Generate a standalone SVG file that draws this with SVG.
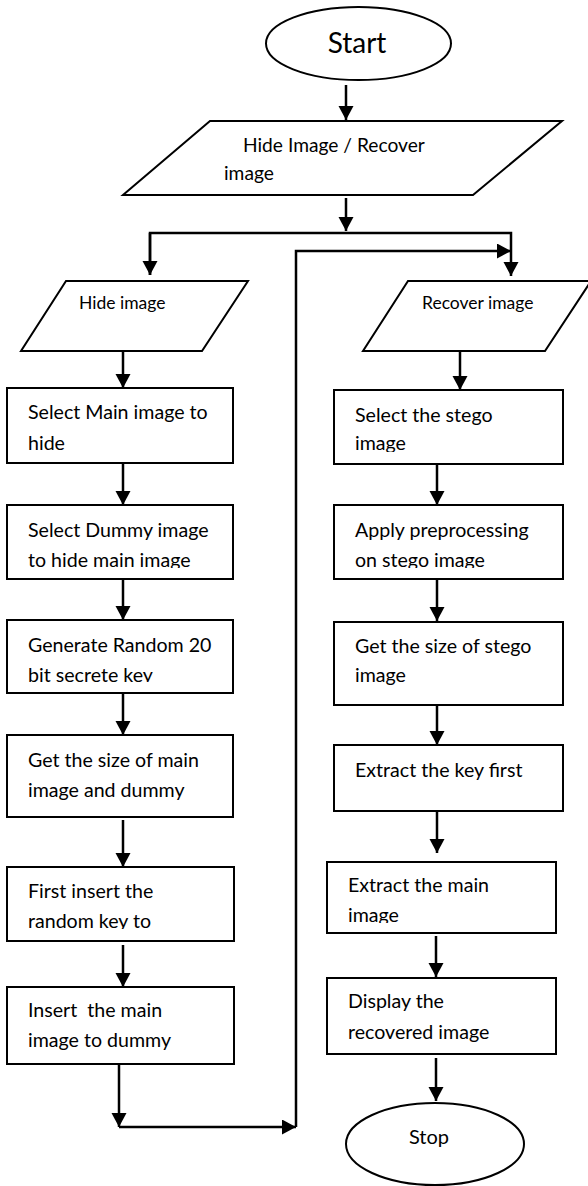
<svg xmlns="http://www.w3.org/2000/svg" width="588" height="1186" viewBox="0 0 588 1186">
<defs>
<marker id="ah" markerUnits="userSpaceOnUse" markerWidth="16" markerHeight="16" refX="14" refY="7.5" orient="auto"><path d="M0,0 L14,7.5 L0,15 z" fill="#000"/></marker>
<clipPath id="c1"><rect x="0" y="0" width="588" height="183"/></clipPath>
<clipPath id="c2"><rect x="0" y="0" width="588" height="568"/></clipPath>
<clipPath id="c3"><rect x="0" y="0" width="588" height="682"/></clipPath>
<clipPath id="c4"><rect x="0" y="0" width="588" height="929"/></clipPath>
<clipPath id="c5"><rect x="0" y="0" width="588" height="452"/></clipPath>
<clipPath id="c6"><rect x="0" y="0" width="588" height="923"/></clipPath>
</defs>
<style>
.s{fill:#fff;stroke:#000;stroke-width:2}
.t{font-family:Lato,"Liberation Sans",sans-serif;font-size:19.6px;fill:#000}
.sm{font-size:17.5px}
.c{fill:none;stroke:#000;stroke-width:2.5}
</style>
<rect width="588" height="1186" fill="#fff"/>
<g id="connectors">
<line class="c" x1="346" y1="85" x2="346" y2="120" marker-end="url(#ah)"/>
<line class="c" x1="346" y1="198" x2="346" y2="231" marker-end="url(#ah)"/>
<polyline class="c" points="150,275 150,233 511,233 511,276" marker-end="url(#ah)"/>
<line class="c" x1="150" y1="233" x2="150" y2="275" marker-end="url(#ah)"/>
<line class="c" x1="123" y1="351" x2="123" y2="388" marker-end="url(#ah)"/>
<line class="c" x1="123" y1="463" x2="123" y2="505" marker-end="url(#ah)"/>
<line class="c" x1="123" y1="579" x2="123" y2="620" marker-end="url(#ah)"/>
<line class="c" x1="123" y1="693" x2="123" y2="735" marker-end="url(#ah)"/>
<line class="c" x1="123" y1="820" x2="123" y2="867" marker-end="url(#ah)"/>
<line class="c" x1="123" y1="945" x2="123" y2="987" marker-end="url(#ah)"/>
<line class="c" x1="119" y1="1064" x2="119" y2="1127" marker-end="url(#ah)"/>
<line class="c" x1="119" y1="1127" x2="296" y2="1127" marker-end="url(#ah)"/>
<polyline class="c" points="296,1127 296,251 511,251" marker-end="url(#ah)"/>
<line class="c" x1="460" y1="351" x2="460" y2="390" marker-end="url(#ah)"/>
<line class="c" x1="437" y1="464" x2="437" y2="505" marker-end="url(#ah)"/>
<line class="c" x1="437" y1="579" x2="437" y2="621" marker-end="url(#ah)"/>
<line class="c" x1="437" y1="705" x2="437" y2="745" marker-end="url(#ah)"/>
<line class="c" x1="437" y1="811" x2="437" y2="853" marker-end="url(#ah)"/>
<line class="c" x1="436" y1="936" x2="436" y2="977" marker-end="url(#ah)"/>
<line class="c" x1="436" y1="1058" x2="436" y2="1101" marker-end="url(#ah)"/>
</g>
<g id="start"><ellipse class="s" cx="358.5" cy="43.5" rx="92.5" ry="36.5"/><text class="t" x="357" y="53" text-anchor="middle" style="font-size:28px">Start</text></g>
<g id="choice"><polygon class="s" points="210,121 562,121 473,195 123,195"/><text class="t" x="243" y="152" style="font-size:19.2px">Hide Image / Recover</text><text class="t" x="224" y="180" clip-path="url(#c1)" style="font-size:19.2px">image</text></g>
<g id="hide"><polygon class="s" points="66,281 248,281 202,351 21,351"/><text class="t sm" x="79" y="309">Hide image</text></g>
<g id="recover"><polygon class="s" points="408,281 591,281 545,351 363,351"/><text class="t sm" x="422" y="309">Recover image</text></g>
<g id="h1"><rect class="s" x="7" y="388" width="226" height="75"/><text class="t" x="28" y="419">Select Main image to</text><text class="t" x="28" y="450">hide</text></g>
<g id="h2"><rect class="s" x="7" y="505" width="226" height="74"/><text class="t" x="28" y="537">Select Dummy image</text><text class="t" x="28" y="567" clip-path="url(#c2)">to hide main image</text></g>
<g id="h3"><rect class="s" x="7" y="620" width="226" height="73"/><text class="t" x="28" y="652">Generate Random 20</text><text class="t" x="28" y="682" clip-path="url(#c3)">bit secrete key</text></g>
<g id="h4"><rect class="s" x="7" y="735" width="226" height="82"/><text class="t" x="28" y="767">Get the size of main</text><text class="t" x="28" y="797">image and dummy</text></g>
<g id="h5"><rect class="s" x="7" y="867" width="227" height="74"/><text class="t" x="28" y="898">First insert the</text><text class="t" x="28" y="928" clip-path="url(#c4)">random key to</text></g>
<g id="h6"><rect class="s" x="7" y="987" width="227" height="77"/><text class="t" x="28" y="1017" xml:space="preserve">Insert  the main</text><text class="t" x="28" y="1047">image to dummy</text></g>
<g id="r1"><rect class="s" x="334" y="390" width="229" height="74"/><text class="t" x="355" y="422">Select the stego</text><text class="t" x="355" y="450" clip-path="url(#c5)">image</text></g>
<g id="r2"><rect class="s" x="334" y="505" width="229" height="74"/><text class="t" x="355" y="537">Apply preprocessing</text><text class="t" x="355" y="567" clip-path="url(#c2)">on stego image</text></g>
<g id="r3"><rect class="s" x="334" y="622" width="229" height="83"/><text class="t" x="355" y="653">Get the size of stego</text><text class="t" x="355" y="682">image</text></g>
<g id="r4"><rect class="s" x="334" y="745" width="229" height="66"/><text class="t" x="355" y="777">Extract the key first</text></g>
<g id="r5"><rect class="s" x="327" y="862" width="229" height="71"/><text class="t" x="348" y="892">Extract the main</text><text class="t" x="348" y="922" clip-path="url(#c6)">image</text></g>
<g id="r6"><rect class="s" x="327" y="978" width="229" height="76"/><text class="t" x="348" y="1008">Display the</text><text class="t" x="348" y="1039">recovered image</text></g>
<g id="stop"><ellipse class="s" cx="435" cy="1144" rx="89" ry="41"/><text class="t" x="429" y="1144" text-anchor="middle" style="font-size:20px">Stop</text></g>
</svg>
